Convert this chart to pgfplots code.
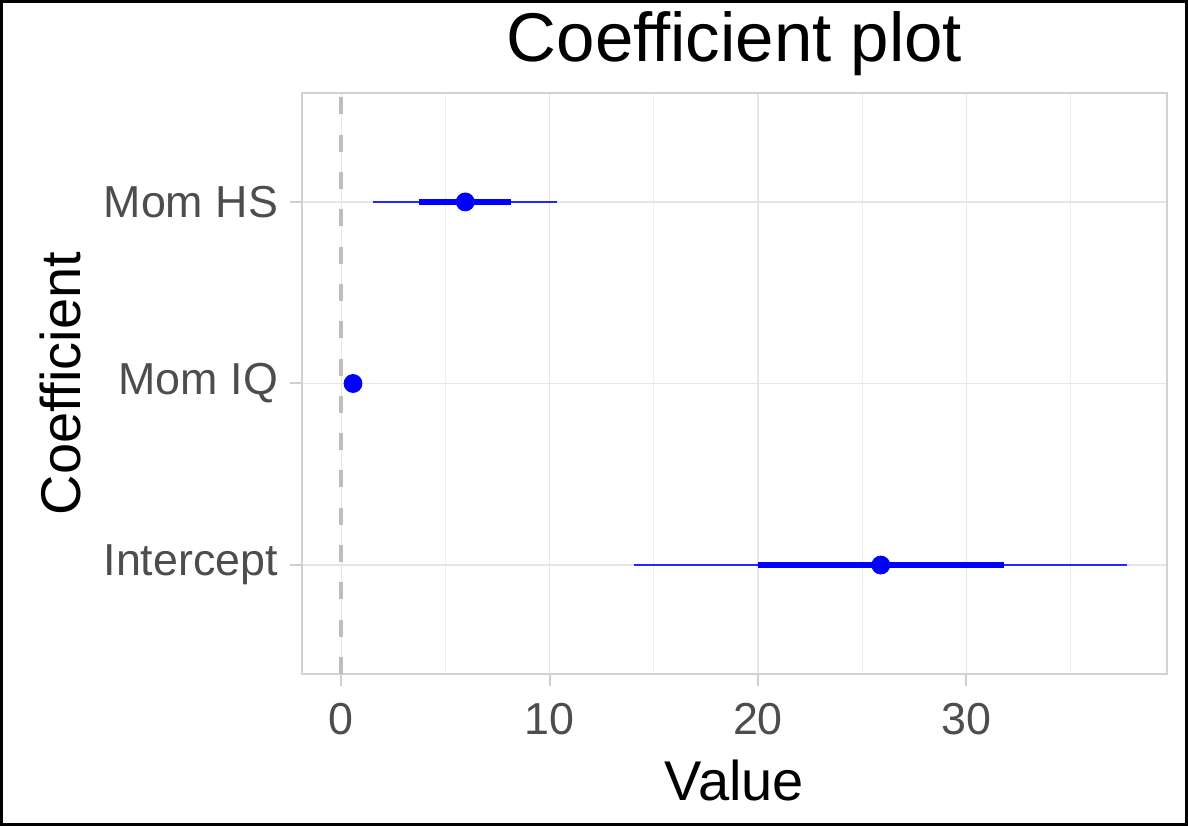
\documentclass[border=0pt]{standalone}
\usepackage{fontspec}
\setmainfont{Liberation Sans}
\usepackage{pgfplots}
\pgfplotsset{compat=1.18}

\definecolor{gridmaj}{HTML}{E6E6E6}
\definecolor{gridmin}{HTML}{EFEFEF}
\definecolor{panelborder}{HTML}{D2D2D2}
\definecolor{tickcol}{HTML}{CFCFCF}
\definecolor{labcol}{HTML}{4D4D4D}
\definecolor{zerocol}{HTML}{BEBEBE}
\definecolor{coefblue}{HTML}{0000FF}

\begin{document}
\begin{tikzpicture}
\useasboundingbox (0,0) rectangle (594bp,413bp);
\draw[black, line width=1.5bp] (0.75bp,0.75bp) rectangle (593.25bp,412.25bp);
\begin{axis}[
  at={(151bp,76bp)}, anchor=south west,
  scale only axis, width=432.5bp, height=290.5bp,
  xmin=-1.89, xmax=39.64, ymin=0.4, ymax=3.6,
  xtick={0,10,20,30}, minor xtick={5,15,25,35},
  ytick={1,2,3}, yticklabels={Intercept, Mom IQ, Mom HS},
  xtick pos=left, ytick pos=left,
  grid=both,
  major grid style={color=gridmaj, line width=0.6bp},
  minor grid style={color=gridmin, line width=0.4bp},
  axis line style={color=panelborder, line width=1.2bp},
  tick align=outside, major tick length=6bp, minor tick length=0pt,
  every tick/.style={color=tickcol, line width=1bp},
  ticklabel style={font=\fontsize{22.4bp}{26bp}\selectfont, text=labcol},
  xticklabel style={yshift=-5bp},
  yticklabel style={xshift=-2.5bp},
  /pgf/number format/assume math mode=true,
  every axis title shift=0pt,
  title={Coefficient plot},
  title style={font=\fontsize{34.5bp}{40bp}\selectfont, at={(axis description cs:0.5,1.0534)}, anchor=base},
  xlabel={Value},
  xlabel style={font=\fontsize{28bp}{33bp}\selectfont, at={(axis description cs:0.5,-0.2169)}, anchor=base},
  ylabel={Coefficient},
  ylabel style={font=\fontsize{28bp}{33bp}\selectfont, at={(axis description cs:-0.2566,0.5)}, anchor=base},
  clip=true,
]
% reference line at zero
\addplot[zerocol, line width=2bp, dash pattern=on 8.5bp off 10.15bp] coordinates {(0,0.4) (0,3.6)};

% +/- 2 SE intervals
\addplot[coefblue!85, line width=0.7bp] coordinates {(14.06,1) (37.74,1)};
\addplot[coefblue!85, line width=0.7bp] coordinates {(0.44,2) (0.68,2)};
\addplot[coefblue!85, line width=0.7bp] coordinates {(1.53,3) (10.37,3)};

% +/- 1 SE intervals
\addplot[coefblue, line width=2.8bp] coordinates {(19.98,1) (31.82,1)};
\addplot[coefblue, line width=2.8bp] coordinates {(0.50,2) (0.62,2)};
\addplot[coefblue, line width=2.8bp] coordinates {(3.74,3) (8.16,3)};

% point estimates
\addplot[only marks, mark=*, mark size=4.5bp, coefblue, mark options={fill=coefblue, draw=coefblue}]
  coordinates {(25.9,1) (0.56,2) (5.95,3)};
\end{axis}
\end{tikzpicture}
\end{document}
